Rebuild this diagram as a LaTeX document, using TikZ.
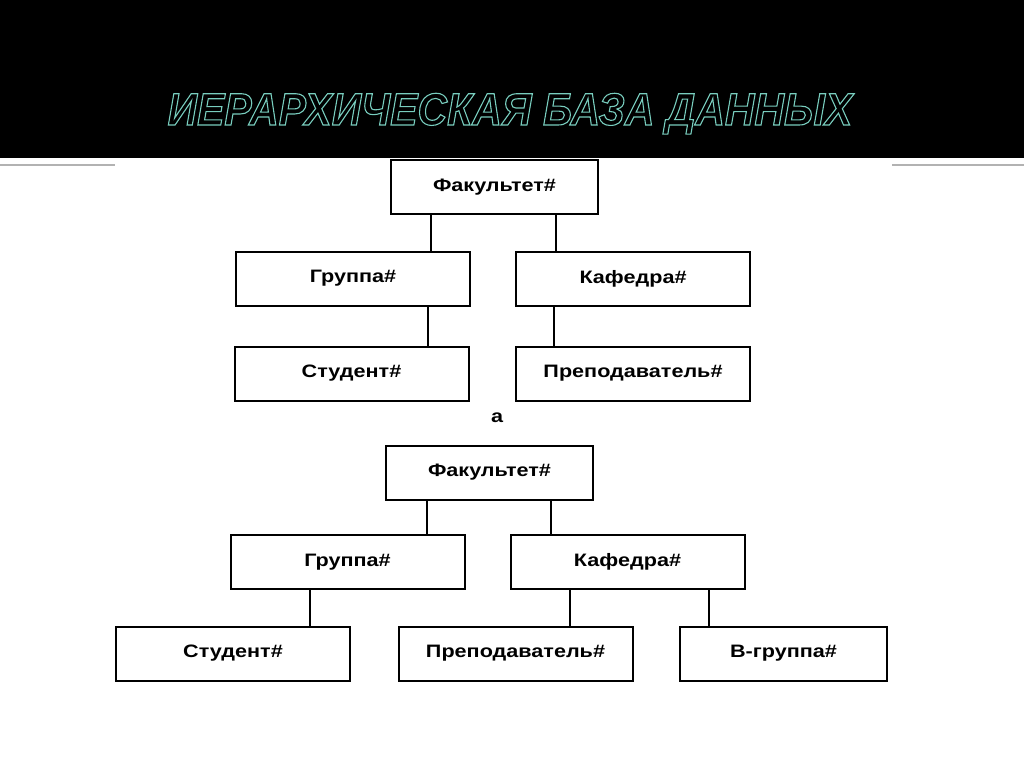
\documentclass[tikz,border=0pt]{standalone}
\usepackage{fontspec}
\setmainfont{Liberation Sans}
\newfontfamily\boxfont[FakeStretch=1.2]{Liberation Sans}
\newfontfamily\titlefont[FakeStretch=0.9]{Liberation Sans}
\usetikzlibrary{positioning}
\definecolor{titleline}{RGB}{120,205,190}
\newcommand{\outlined}[1]{\special{pdf:literal direct 1 Tr 1.1 w}#1\special{pdf:literal direct 0 Tr}}
\tikzset{box/.style = {draw, line width = 2pt, minimum height = 54, inner sep = 0,
                       font = \boxfont\bfseries\fontsize{18}{20}\selectfont}}
\tikzset{wide/.style = {box, minimum width = 234}}
\tikzset{narrow/.style = {box, minimum width = 207}}
\tikzset{link/.style = {line width = 2pt}}

\begin{document}
\begin{tikzpicture}[x = 1pt, y = -1pt]
      \useasboundingbox (0, 0) rectangle (1024, 767);
      \fill [white] (0, 0) rectangle (1024, 767);
      \fill [black] (0, 0) rectangle (1024, 158);
      \draw [gray!60, line width = 2pt] (0, 165) -- (115, 165);
      \draw [gray!60, line width = 2pt] (892, 165) -- (1024, 165);

      % title, outline only
      \node (title) [titleline, anchor = base, font = \titlefont\bfseries\itshape\fontsize{45.5}{50}\selectfont]
        at (510, 125) {\outlined{ИЕРАРХИЧЕСКАЯ БАЗА ДАННЫХ}};

      % a
      \node (fakA) [narrow] at (494.5, 187) {Факультет\#};
      \node (grupA) [wide] at (353, 278.5) {Группа\#};
      \node (kafA) [wide] at (633, 278.5) {Кафедра\#};
      \node (studA) [wide] at (351.5, 373.5) {Студент\#};
      \node (prepA) [wide] at (633, 373.5) {Преподаватель\#};
      \node (capA) [font = \boxfont\bfseries\fontsize{18}{20}\selectfont] at (497, 418) {а};

      \draw [link] (fakA.south -| 431, 0) -- (grupA.north -| 431, 0);
      \draw [link] (fakA.south -| 556, 0) -- (kafA.north -| 556, 0);
      \draw [link] (grupA.south -| 428, 0) -- (studA.north -| 428, 0);
      \draw [link] (kafA.south -| 554, 0) -- (prepA.north -| 554, 0);

      % b
      \node (fakB) [narrow] at (489.5, 472.5) {Факультет\#};
      \node (grupB) [wide] at (347.5, 562) {Группа\#};
      \node (kafB) [wide] at (627.5, 561.5) {Кафедра\#};
      \node (studB) [wide] at (233, 653.5) {Студент\#};
      \node (prepB) [wide] at (515.5, 653.5) {Преподаватель\#};
      \node (bgrB) [narrow] at (783.5, 653.5) {В-группа\#};

      \draw [link] (fakB.south -| 427, 0) -- (grupB.north -| 427, 0);
      \draw [link] (fakB.south -| 551, 0) -- (kafB.north -| 551, 0);
      \draw [link] (grupB.south -| 310, 0) -- (studB.north -| 310, 0);
      \draw [link] (kafB.south -| 570, 0) -- (prepB.north -| 570, 0);
      \draw [link] (kafB.south -| 709, 0) -- (bgrB.north -| 709, 0);

    \end{tikzpicture}
\end{document}
